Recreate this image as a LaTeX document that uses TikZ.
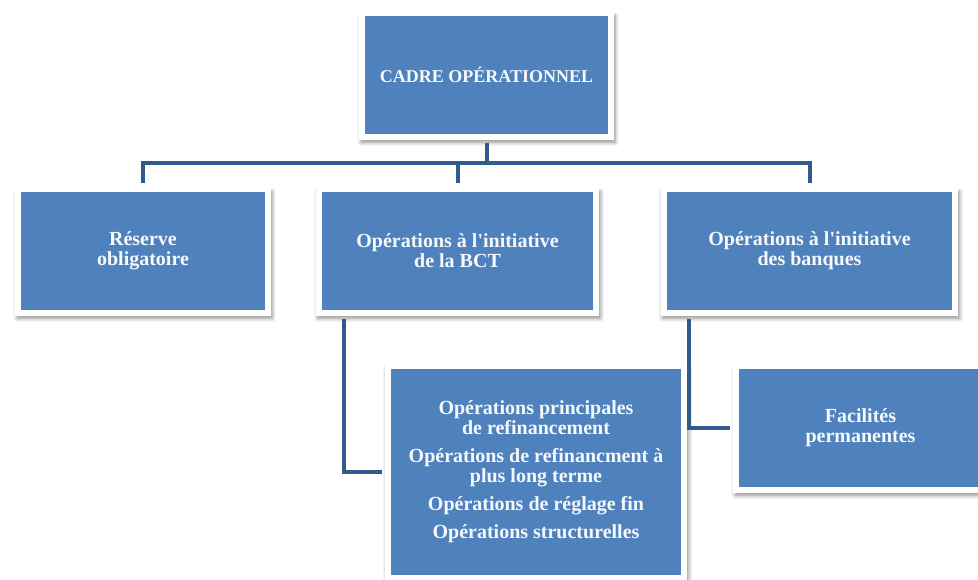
\documentclass[tikz,border=0pt]{standalone}
\usepackage{fontspec}
\setmainfont{Liberation Serif}
\usetikzlibrary{shadows.blur}
\definecolor{boxblue}{HTML}{4F81BD}
\definecolor{linkblue}{HTML}{2F5C8D}
\tikzset{
	bloc/.style={draw=white, line width=3pt, fill=boxblue, text=white!95!boxblue,
		font=\bfseries\fontsize{10}{10}\selectfont, align=center, inner sep=0pt,
		blur shadow={shadow xshift=0.8pt, shadow yshift=-2pt, shadow scale=1.02,
			shadow blur radius=2pt, shadow blur steps=6, shadow opacity=45},
		minimum height=62pt},
	lien/.style={draw=linkblue, line width=2pt, shorten <=1.5pt, shorten >=1.5pt},
}

\begin{document}
\begin{tikzpicture}[x=0.5pt, y=-0.5pt]
	\useasboundingbox (0,0) rectangle (978,579);
	\clip (0,0) rectangle (978,579);
	\coordinate (bus) at (0,163);

	\node[bloc, minimum width=124.5pt, font=\bfseries\fontsize{9}{9}\selectfont] (cadre) at (486.5,75) {CADRE OPÉRATIONNEL};

	\node[bloc, minimum width=125pt] (reserve) at (143,251) {Réserve\\obligatoire};
	\node[bloc, minimum width=138.5pt] (bct) at (457.5,251) {Opérations à l\textquotesingle initiative\\de la BCT};
	\node[bloc, minimum width=145.5pt] (banques) at (809.5,251) {Opérations à l\textquotesingle initiative\\des banques};

	\node[bloc, minimum width=148pt, minimum height=106pt] (refi) at (536,472)
		{Opérations principales\\de refinancement\\[4pt]
		Opérations de refinancment à\\plus long terme\\[4pt]
		Opérations de réglage fin\\[4pt]
		Opérations structurelles};
	\node[bloc, minimum width=124.5pt] (facilites) at (860.5,428) {Facilités\\permanentes};

	\foreach \j in {reserve, bct, banques}
	{
		\path[lien] (cadre.south) -- (cadre.south |- bus) -| (\j.north);
	};

	\path[lien] ([xshift=14pt]bct.south west) |- (refi.west);
	\path[lien] ([xshift=14pt]banques.south west) |- (facilites.west);
\end{tikzpicture}
\end{document}
